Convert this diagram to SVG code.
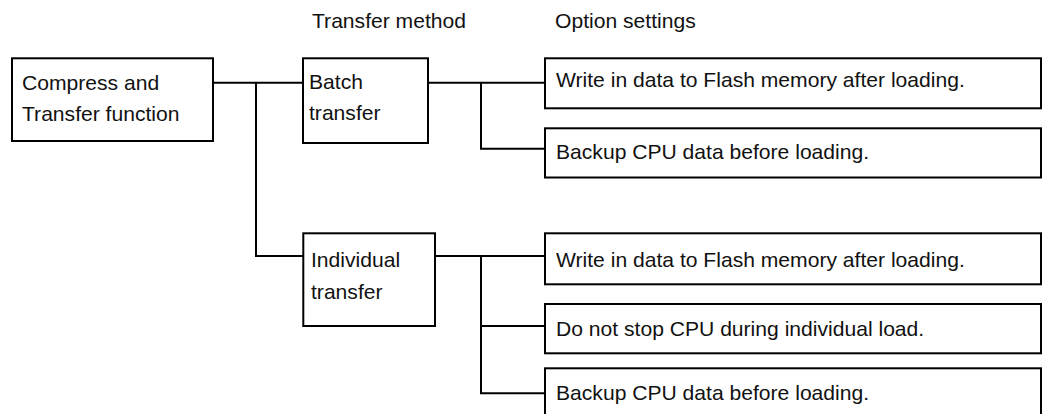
<svg xmlns="http://www.w3.org/2000/svg" width="1044" height="414" viewBox="0 0 1044 414">
<style>
.box{fill:#fff;stroke:#000;stroke-width:2}
.ln{fill:none;stroke:#000;stroke-width:2}
text{font-family:"Liberation Sans",Arial,sans-serif;font-size:21.1px;fill:#111}
</style>
<rect width="1044" height="414" fill="#fff"/>
<g id="headers">
<text x="312" y="28">Transfer method</text>
<text x="555" y="28">Option settings</text>
</g>
<g id="connectors">
<path class="ln" d="M213 82.7H303"/>
<path class="ln" d="M256 82.7V256H303"/>
<path class="ln" d="M428 82.7H545"/>
<path class="ln" d="M481 82.7V148.7H545"/>
<path class="ln" d="M435 256H545"/>
<path class="ln" d="M481 256V393.3H545"/>
<path class="ln" d="M481 326H545"/>
</g>
<g id="root">
<rect class="box" x="12" y="58.3" width="201" height="82.7"/>
<text x="22" y="90">Compress and</text>
<text x="22" y="121">Transfer function</text>
</g>
<g id="batch">
<rect class="box" x="303" y="58.3" width="125" height="84.7"/>
<text x="309" y="89.3">Batch</text>
<text x="309" y="120">transfer</text>
</g>
<g id="individual">
<rect class="box" x="303.3" y="233.3" width="131.7" height="92.7"/>
<text x="311" y="266.7">Individual</text>
<text x="311" y="298.7">transfer</text>
</g>
<g id="b-opt1">
<rect class="box" x="545" y="58.3" width="496" height="50"/>
<text x="556" y="86.7">Write in data to Flash memory after loading.</text>
</g>
<g id="b-opt2">
<rect class="box" x="545" y="128.3" width="496" height="49.2"/>
<text x="556" y="159">Backup CPU data before loading.</text>
</g>
<g id="i-opt1">
<rect class="box" x="545" y="233.3" width="496" height="51"/>
<text x="556" y="266.7">Write in data to Flash memory after loading.</text>
</g>
<g id="i-opt2">
<rect class="box" x="545" y="304" width="496" height="49.3"/>
<text x="556" y="335.7">Do not stop CPU during individual load.</text>
</g>
<g id="i-opt3">
<rect class="box" x="545" y="368.3" width="496" height="60"/>
<text x="556" y="400">Backup CPU data before loading.</text>
</g>
</svg>
